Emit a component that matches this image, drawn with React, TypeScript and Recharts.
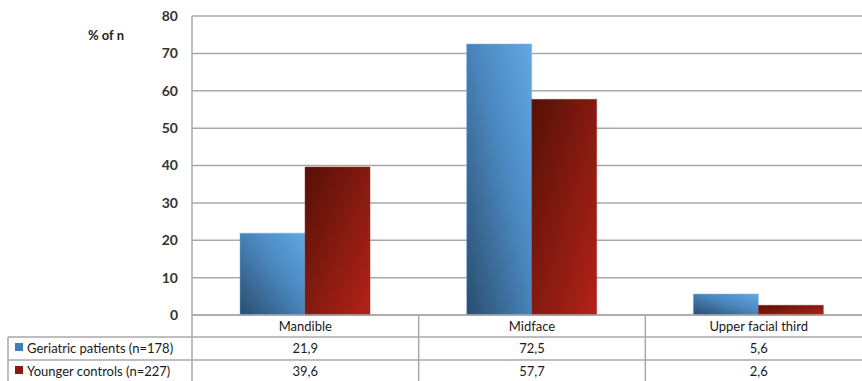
import { Bar, BarChart, CartesianGrid, XAxis, YAxis } from "recharts";

const categories = ["Mandible", "Midface", "Upper facial third"];
const geriatric = [21.9, 72.5, 5.6];
const younger = [39.6, 57.7, 2.6];
const seriesNames = ["Geriatric patients (n=178)", "Younger controls (n=227)"];
const yTicks = [0, 10, 20, 30, 40, 50, 60, 70, 80];

const data = categories.map((name, i) => ({
  name,
  geriatric: geriatric[i],
  younger: younger[i],
}));

const W = 880;
const H = 390;
const LEFT = 192;
const RIGHT = 8;
const BAND = (W - LEFT - RIGHT) / categories.length;
const TABLE_TOP = 315;
const ROW1 = 337;
const ROW2 = 360;
const TABLE_BOTTOM = 384;
const GRID = "#a9a9a9";
const TEXT = "#1a1a1a";
const FONT = "Lato, 'Open Sans', sans-serif";

const fmt = (v: number) => v.toFixed(1).replace(".", ",");

function TableTick(props: any) {
  const { x, payload } = props;
  const i = payload.index;
  const left = x - BAND / 2;
  const right = x + BAND / 2;
  return (
    <g fontFamily={FONT} fontSize={13} fill={TEXT}>
      {i === 0 && (
        <g>
          <line x1={8} y1={ROW1} x2={LEFT} y2={ROW1} stroke={GRID} strokeWidth={1.5} />
          <line x1={8} y1={ROW2} x2={LEFT} y2={ROW2} stroke={GRID} strokeWidth={1.5} />
          <line x1={8} y1={ROW1} x2={8} y2={TABLE_BOTTOM} stroke={GRID} strokeWidth={1.5} />
          <line x1={left} y1={TABLE_TOP} x2={left} y2={TABLE_BOTTOM} stroke={GRID} strokeWidth={1.5} />
          <rect x={15} y={343} width={8} height={8} fill="#3f7fb8" />
          <rect x={15} y={366} width={8} height={8} fill="#8c1a12" />
          <text x={27} y={353} textAnchor="start" stroke="none">
            {seriesNames[0]}
          </text>
          <text x={27} y={376} textAnchor="start" stroke="none">
            {seriesNames[1]}
          </text>
        </g>
      )}
      <line x1={left} y1={ROW1} x2={right} y2={ROW1} stroke={GRID} strokeWidth={1.5} />
      <line x1={left} y1={ROW2} x2={right} y2={ROW2} stroke={GRID} strokeWidth={1.5} />
      <line x1={right} y1={TABLE_TOP} x2={right} y2={TABLE_BOTTOM} stroke={GRID} strokeWidth={1.5} />
      <text x={x} y={331} textAnchor="middle" stroke="none">
        {payload.value}
      </text>
      <text x={x} y={353} textAnchor="middle" stroke="none">
        {fmt(geriatric[i])}
      </text>
      <text x={x} y={376} textAnchor="middle" stroke="none">
        {fmt(younger[i])}
      </text>
    </g>
  );
}

export default function App() {
  return (
    <div
      style={{
        position: "fixed",
        left: 0,
        top: 0,
        width: 862,
        height: 381,
        overflow: "hidden",
        background: "#fff",
      }}
    >
      <BarChart
        width={W}
        height={H}
        data={data}
        margin={{ top: 16, right: RIGHT, left: 0, bottom: 0 }}
        barGap={0}
        barSize={65}
      >
        <defs>
          <linearGradient id="blueGrad" x1="0" y1="1" x2="1" y2="0">
            <stop offset="0%" stopColor="#2a4d6e" />
            <stop offset="55%" stopColor="#4a86bd" />
            <stop offset="100%" stopColor="#62a8e4" />
          </linearGradient>
          <linearGradient id="redGrad" x1="0" y1="0" x2="1" y2="1">
            <stop offset="0%" stopColor="#561006" />
            <stop offset="50%" stopColor="#841a10" />
            <stop offset="100%" stopColor="#b42218" />
          </linearGradient>
        </defs>
        <CartesianGrid vertical={false} stroke={GRID} strokeWidth={1.5} />
        <YAxis
          width={LEFT}
          domain={[0, 80]}
          ticks={yTicks}
          interval={0}
          axisLine={{ stroke: GRID, strokeWidth: 1.5 }}
          tickLine={false}
          tickSize={0}
          tickMargin={14}
          tick={{ fontFamily: FONT, fontSize: 14, fontWeight: 700, fill: "#333" }}
          label={{
            content: () => (
              <text x={88} y={40} fontFamily={FONT} fontSize={13} fontWeight={700} fill="#222">
                % of n
              </text>
            ),
          }}
        />
        <XAxis
          dataKey="name"
          height={H - TABLE_TOP}
          interval={0}
          axisLine={{ stroke: GRID, strokeWidth: 1.5 }}
          tickLine={false}
          tick={(p: any) => <TableTick {...p} />}
        />
        <Bar dataKey="geriatric" name={seriesNames[0]} fill="url(#blueGrad)" stroke="#6fb0e8" strokeWidth={0.5} isAnimationActive={false} />
        <Bar dataKey="younger" name={seriesNames[1]} fill="url(#redGrad)" stroke="#9a3028" strokeWidth={0.5} isAnimationActive={false} />
      </BarChart>
    </div>
  );
}
